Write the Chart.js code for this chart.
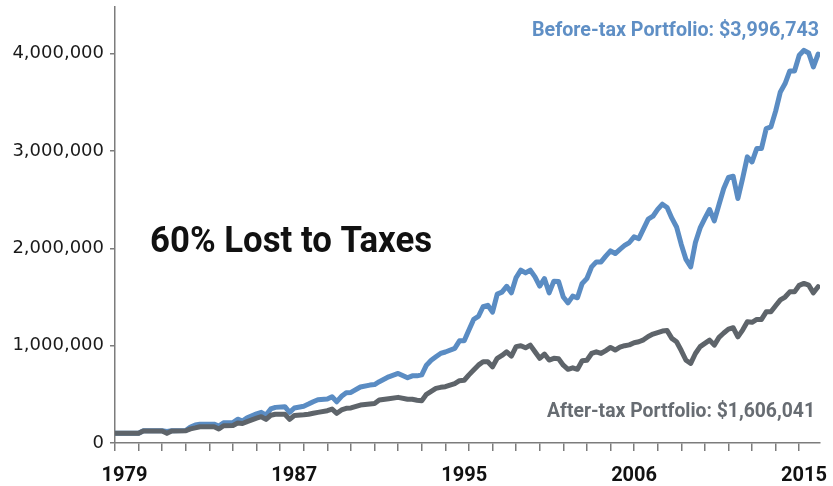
<!DOCTYPE html>
<html>
<head>
<meta charset="utf-8">
<script src="https://cdn.jsdelivr.net/npm/chart.js@4.4.1/dist/chart.umd.min.js"></script>
<style>
  html, body { margin: 0; padding: 0; background: #fff; }
  #wrap { width: 833px; height: 486px; }
</style>
</head>
<body>
<div id="wrap"><canvas id="myChart"></canvas></div>
<script>
// Quarter index since the start of 1979
const periods = [
  0, 5, 6, 10, 11, 12, 15, 16, 17, 18, 21, 22, 23, 25, 26, 27, 28, 30, 31, 32,
  33, 34, 36, 37, 38, 40, 41, 42, 43, 45, 46, 47, 48, 49, 50, 52, 54, 55, 56, 58,
  60, 62, 63, 64, 65, 66, 67, 68, 69, 70, 72, 73, 74, 75, 76, 77, 78, 79, 80, 81,
  82, 83, 84, 85, 86, 87, 88, 89, 90, 91, 92, 93, 94, 95, 96, 97, 98, 99, 100, 101,
  102, 103, 104, 105, 106, 107, 108, 109, 110, 111, 112, 113, 114, 115, 116, 117, 118, 119, 120, 121,
  122, 123, 124, 125, 126, 127, 128, 129, 130, 131, 132, 133, 134, 135, 136, 137, 138, 139, 140, 141,
  142, 143, 144, 145, 146, 147, 148, 149,
];

// Before-tax portfolio value ($)
const beforeTax = [
  100000, 100000, 125000, 125000, 118000, 125000, 128000, 165000, 185000, 193000,
  193000, 175000, 208000, 210000, 245000, 225000, 260000, 300000, 315000, 287000,
  350000, 366000, 373000, 315000, 360000, 378000, 400000, 424000, 445000, 452000,
  475000, 424000, 480000, 516000, 520000, 575000, 595000, 600000, 630000, 680000,
  715000, 670000, 690000, 690000, 700000, 800000, 850000, 886000, 920000, 935000,
  972000, 1050000, 1050000, 1160000, 1270000, 1300000, 1400000, 1415000, 1345000, 1530000,
  1550000, 1610000, 1543000, 1700000, 1776000, 1748000, 1776000, 1707000, 1612000, 1690000,
  1543000, 1663000, 1660000, 1500000, 1440000, 1509000, 1492000, 1640000, 1690000, 1810000,
  1861000, 1861000, 1920000, 1974000, 1947000, 1990000, 2030000, 2060000, 2118000, 2100000,
  2200000, 2300000, 2330000, 2400000, 2454000, 2420000, 2310000, 2220000, 2040000, 1886000,
  1810000, 2060000, 2210000, 2307000, 2399000, 2282000, 2450000, 2615000, 2728000, 2741000,
  2512000, 2718000, 2940000, 2888000, 3026000, 3026000, 3231000, 3248000, 3410000, 3607000,
  3693000, 3823000, 3823000, 3984000, 4035000, 4007000, 3864000, 3996743,
];

// After-tax portfolio value ($)
const afterTax = [
  100000, 100000, 123000, 123000, 99000, 123000, 126000, 145000, 155000, 167000,
  167000, 144000, 178000, 180000, 205000, 200000, 220000, 255000, 270000, 243000,
  285000, 295000, 295000, 243000, 283000, 290000, 295000, 305000, 315000, 332000,
  349000, 305000, 340000, 356000, 360000, 390000, 400000, 405000, 441000, 455000,
  469000, 449000, 450000, 440000, 434000, 500000, 530000, 561000, 572000, 578000,
  610000, 640000, 645000, 700000, 750000, 800000, 835000, 835000, 783000, 870000,
  900000, 937000, 893000, 990000, 1000000, 978000, 1006000, 937000, 870000, 914000,
  852000, 870000, 865000, 800000, 757000, 773000, 757000, 845000, 850000, 920000,
  937000, 920000, 950000, 982000, 955000, 985000, 1000000, 1008000, 1030000, 1040000,
  1060000, 1095000, 1119000, 1135000, 1150000, 1155000, 1075000, 1040000, 950000, 850000,
  818000, 920000, 990000, 1024000, 1057000, 1006000, 1085000, 1130000, 1170000, 1184000,
  1091000, 1160000, 1245000, 1240000, 1270000, 1270000, 1348000, 1348000, 1410000, 1470000,
  1500000, 1553000, 1553000, 1620000, 1640000, 1622000, 1543000, 1606041,
];

const yearLabels = ["1979", "1987", "1995", "2006", "2015"];
const yearLabelPeriods = [2, 38, 74, 110, 146];
const yTickValues = [0, 1000000, 2000000, 3000000, 4000000];

const blueColor = "#5a8cc3";
const grayColor = "#5e646a";
const axisColor = "#7c7c7c";

const fmt = (v) => v.toLocaleString("en-US");
const lastBefore = beforeTax[beforeTax.length - 1];
const lastAfter = afterTax[afterTax.length - 1];
const lostPct = Math.round((1 - lastAfter / lastBefore) * 100);

function toPoints(values) {
  return periods.map((p, i) => ({ x: p, y: values[i] }));
}

const xMax = 149.4;

new Chart(document.getElementById("myChart"), {
  type: "line",
  data: {
    datasets: [
      {
        label: "After-tax Portfolio",
        data: toPoints(afterTax),
        borderColor: grayColor,
        borderWidth: 5,
        pointRadius: 0,
        borderJoinStyle: "round",
        borderCapStyle: "round",
        tension: 0,
      },
      {
        label: "Before-tax Portfolio",
        data: toPoints(beforeTax),
        borderColor: blueColor,
        borderWidth: 5,
        pointRadius: 0,
        borderJoinStyle: "round",
        borderCapStyle: "round",
        tension: 0,
      },
    ],
  },
  options: {
    responsive: true,
    maintainAspectRatio: false,
    animation: false,
    devicePixelRatio: 1,
    layout: { padding: { top: 7, right: 13, bottom: 0, left: 0 } },
    scales: {
      // tick marks only
      x: {
        type: "linear",
        min: 0,
        max: xMax,
        weight: 0,
        afterBuildTicks(axis) {
          const t = [];
          for (let v = 0; v <= 145; v += 5) t.push({ value: v });
          axis.ticks = t;
        },
        afterFit(axis) {
          axis.height = 8;
          axis.paddingLeft = 0;
          axis.paddingRight = 0;
        },
        grid: { drawOnChartArea: false, color: axisColor, tickLength: 8, lineWidth: 1.5 },
        border: { color: axisColor, width: 1.5 },
        ticks: { display: true, padding: 0, font: { size: 1 }, callback: () => "" },
      },
      // year labels only
      xl: {
        type: "linear",
        position: "bottom",
        min: 0,
        max: xMax,
        weight: 1,
        afterBuildTicks(axis) {
          axis.ticks = yearLabelPeriods.map((v) => ({ value: v }));
        },
        afterFit(axis) {
          axis.height = 35;
          axis.paddingLeft = 0;
          axis.paddingRight = 0;
        },
        grid: { display: false },
        border: { display: false },
        ticks: {
          padding: 5,
          maxRotation: 0,
          autoSkip: false,
          color: "#111",
          font: { family: "Roboto", size: 20, weight: "bold" },
          callback: (value) => yearLabels[yearLabelPeriods.indexOf(value)],
        },
      },
      y: {
        min: 0,
        max: 4480000,
        afterBuildTicks(axis) {
          axis.ticks = yTickValues.map((v) => ({ value: v }));
        },
        afterFit(axis) {
          axis.width = 115;
          axis.paddingTop = 0;
          axis.paddingBottom = 0;
        },
        grid: { drawOnChartArea: false, color: axisColor, tickLength: 5, lineWidth: 1.5 },
        border: { color: axisColor, width: 1.5 },
        ticks: {
          padding: 6,
          color: "#1a1a1a",
          font: { family: "DejaVu Sans", size: 18 },
          callback: (value) => fmt(value),
        },
      },
    },
    plugins: {
      legend: { display: false },
      tooltip: { enabled: false },
    },
  },
  plugins: [
    {
      id: "portfolio_labels",
      afterDraw(chart) {
        const { ctx, chartArea } = chart;
        ctx.save();
        ctx.textBaseline = "alphabetic";

        // big annotation
        ctx.fillStyle = "#111";
        ctx.font = "bold 36px Roboto";
        ctx.textAlign = "left";
        ctx.fillText(`${lostPct}% Lost to Taxes`, chartArea.left + 35, 252, 282);

        // end-of-series labels
        ctx.font = "bold 20.5px Roboto";
        ctx.textAlign = "right";
        ctx.fillStyle = "#5f8fc5";
        ctx.fillText(`Before-tax Portfolio: $${fmt(lastBefore)}`, chartArea.right - 1, 35.5, 287);
        ctx.fillStyle = "#676c72";
        ctx.fillText(`After-tax Portfolio: $${fmt(lastAfter)}`, chartArea.right - 5, 417, 268);
        ctx.restore();
      },
    },
  ],
});
</script>
</body>
</html>
